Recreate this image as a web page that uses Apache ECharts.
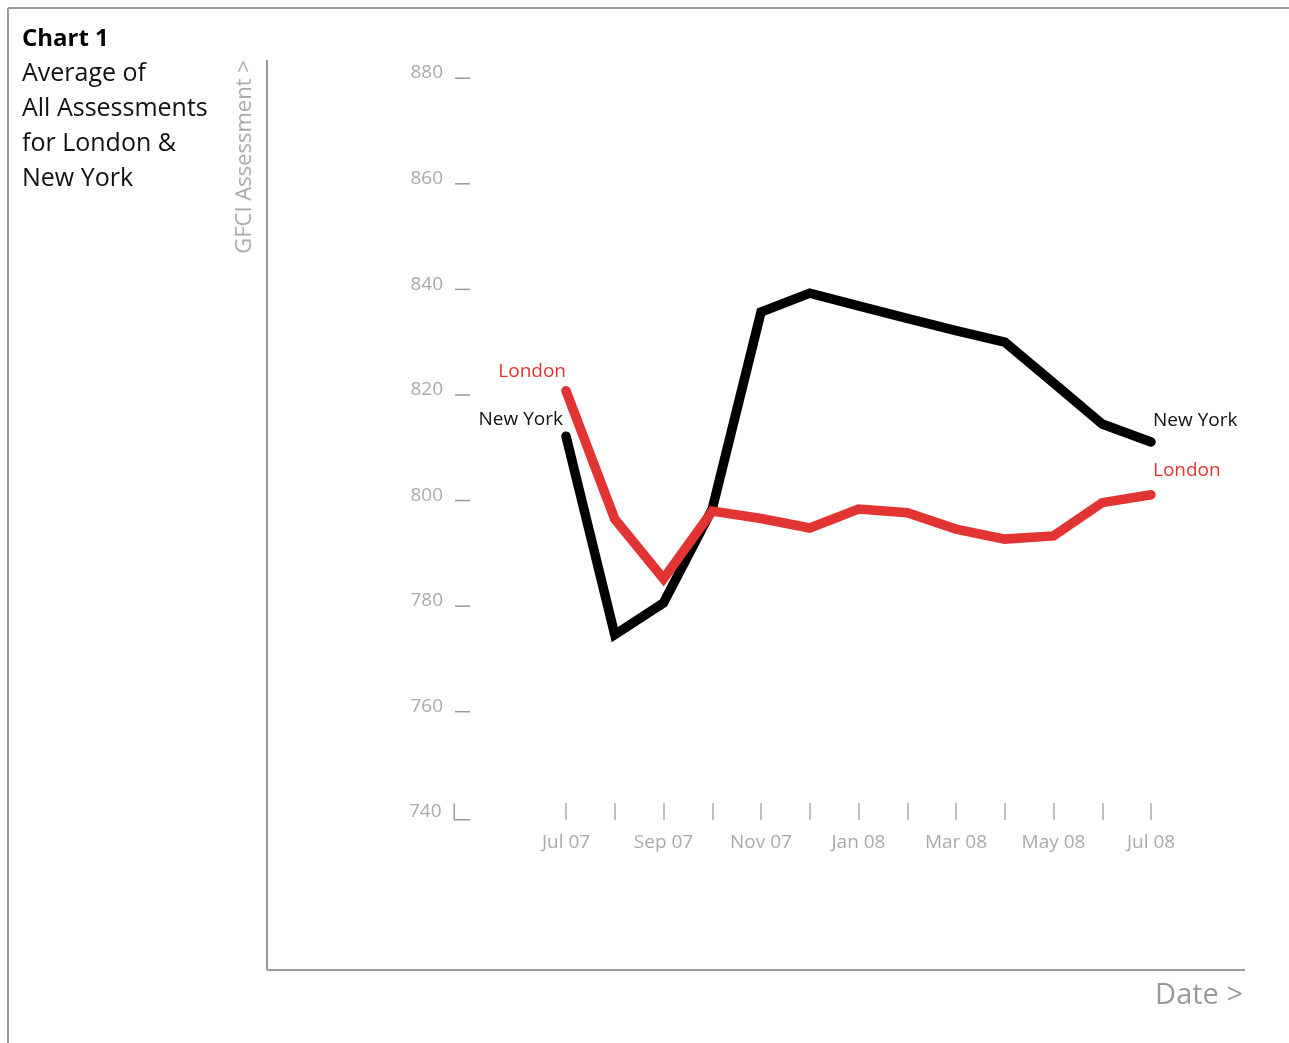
<!DOCTYPE html>
<html>
<head>
<meta charset="utf-8">
<script src="https://cdn.jsdelivr.net/npm/echarts@6/dist/echarts.min.js"></script>
<style>
html,body{margin:0;padding:0;background:#fff;}
#chart{width:1289px;height:1043px;}
</style>
</head>
<body>
<div id="chart"></div>
<script>
var months = ['Jul 07','Aug 07','Sep 07','Oct 07','Nov 07','Dec 07','Jan 08','Feb 08','Mar 08','Apr 08','May 08','Jun 08','Jul 08'];
var newYork = [811.2, 773.6, 779.6, 797.4, 834.7, 838.3, 835.9, 833.5, 831.2, 829.0, 821.3, 813.5, 810.1];
var london  = [819.8, 795.5, 784.2, 797.0, 795.6, 793.8, 797.4, 796.7, 793.6, 791.7, 792.3, 798.6, 800.1];
var yTicks = [740, 760, 780, 800, 820, 840, 860, 880];

var FONT = '"Open Sans", "Noto Sans", sans-serif';
var RED = '#e33434';

function withLabels(arr, name, color, startOffset, endOffset) {
  return arr.map(function (v, i) {
    if (i === 0) {
      return { value: v, label: { show: true, formatter: name, position: 'left', distance: 3, offset: startOffset, color: color, fontSize: 19, fontFamily: FONT } };
    }
    if (i === arr.length - 1) {
      return { value: v, label: { show: true, formatter: name, position: 'right', distance: 2, offset: endOffset, color: color, fontSize: 19, fontFamily: FONT } };
    }
    return v;
  });
}

var chart = echarts.init(document.getElementById('chart'));
chart.setOption({
  animation: false,
  backgroundColor: '#fff',
  title: [
    { text: 'Chart 1', left: 17, top: 22, textStyle: { fontFamily: FONT, fontSize: 24, fontWeight: 'bold', color: '#000' } },
    { text: 'Average of\nAll Assessments\nfor London &\nNew York', left: 17, top: 52,
      textStyle: { fontFamily: FONT, fontSize: 25, fontWeight: 'normal', color: '#111', lineHeight: 34.7 } }
  ],
  graphic: [
    { type: 'line', shape: { x1: 8, y1: 8, x2: 1289, y2: 8 }, style: { stroke: '#999', lineWidth: 2 } },
    { type: 'line', shape: { x1: 8, y1: 8, x2: 8, y2: 1043 }, style: { stroke: '#999', lineWidth: 2 } },
    { type: 'line', shape: { x1: 267, y1: 60, x2: 267, y2: 970 }, style: { stroke: '#999', lineWidth: 2 } },
    { type: 'line', shape: { x1: 267, y1: 970, x2: 1245, y2: 970 }, style: { stroke: '#999', lineWidth: 2 } },
    { type: 'text', x: 245, y: 157, rotation: Math.PI / 2,
      style: { text: 'GFCI Assessment >', fontFamily: FONT, fontSize: 22, fill: '#aaa', align: 'center', verticalAlign: 'middle' } },
    { type: 'text', x: 1243, y: 996,
      style: { text: 'Date >', fontFamily: FONT, fontSize: 29, fill: '#999', align: 'right', verticalAlign: 'middle' } }
  ],
  grid: { left: 566, right: 138, top: 73, bottom: 231, containLabel: false },
  xAxis: {
    type: 'category',
    data: months,
    boundaryGap: false,
    offset: -9,
    axisLine: { show: false },
    axisTick: { show: true, length: 17, interval: 0, lineStyle: { color: '#aaa', width: 1.5 } },
    axisLabel: { interval: 1, margin: 30, color: '#aaa', fontSize: 19, fontFamily: FONT },
    splitLine: { show: false }
  },
  yAxis: {
    type: 'value',
    min: yTicks[0],
    max: yTicks[yTicks.length - 1],
    interval: 20,
    offset: 96,
    axisLine: { show: false },
    axisTick: { show: false },
    splitLine: { show: false },
    axisLabel: {
      margin: 0,
      formatter: function (v) {
        if (v === yTicks[0]) return '{v|' + v + '}{g|}{l|}{t|}';
        return '{v|' + v + '}{g|}{t|}';
      },
      rich: {
        v: { color: '#aaa', fontSize: 19, fontFamily: FONT, lineHeight: 12, verticalAlign: 'middle' },
        g: { width: 12, height: 1 },
        l: { width: 1.5, height: 17, backgroundColor: '#999', verticalAlign: 'bottom' },
        t: { width: 15, height: 1.5, backgroundColor: '#999', verticalAlign: 'bottom' }
      }
    }
  },
  series: [
    {
      name: 'New York', type: 'line',
      data: withLabels(newYork, 'New York', '#111', [0, -17], [0, -21]),
      symbol: 'circle', symbolSize: 0, clip: false,
      lineStyle: { color: '#000', width: 9.5, cap: 'round', join: 'miter' },
      itemStyle: { color: '#000' }, z: 2
    },
    {
      name: 'London', type: 'line',
      data: withLabels(london, 'London', RED, [3, -19], [0, -24]),
      symbol: 'circle', symbolSize: 0, clip: false,
      lineStyle: { color: RED, width: 9.5, cap: 'round', join: 'miter' },
      itemStyle: { color: RED }, z: 3
    }
  ]
});
</script>
</body>
</html>
